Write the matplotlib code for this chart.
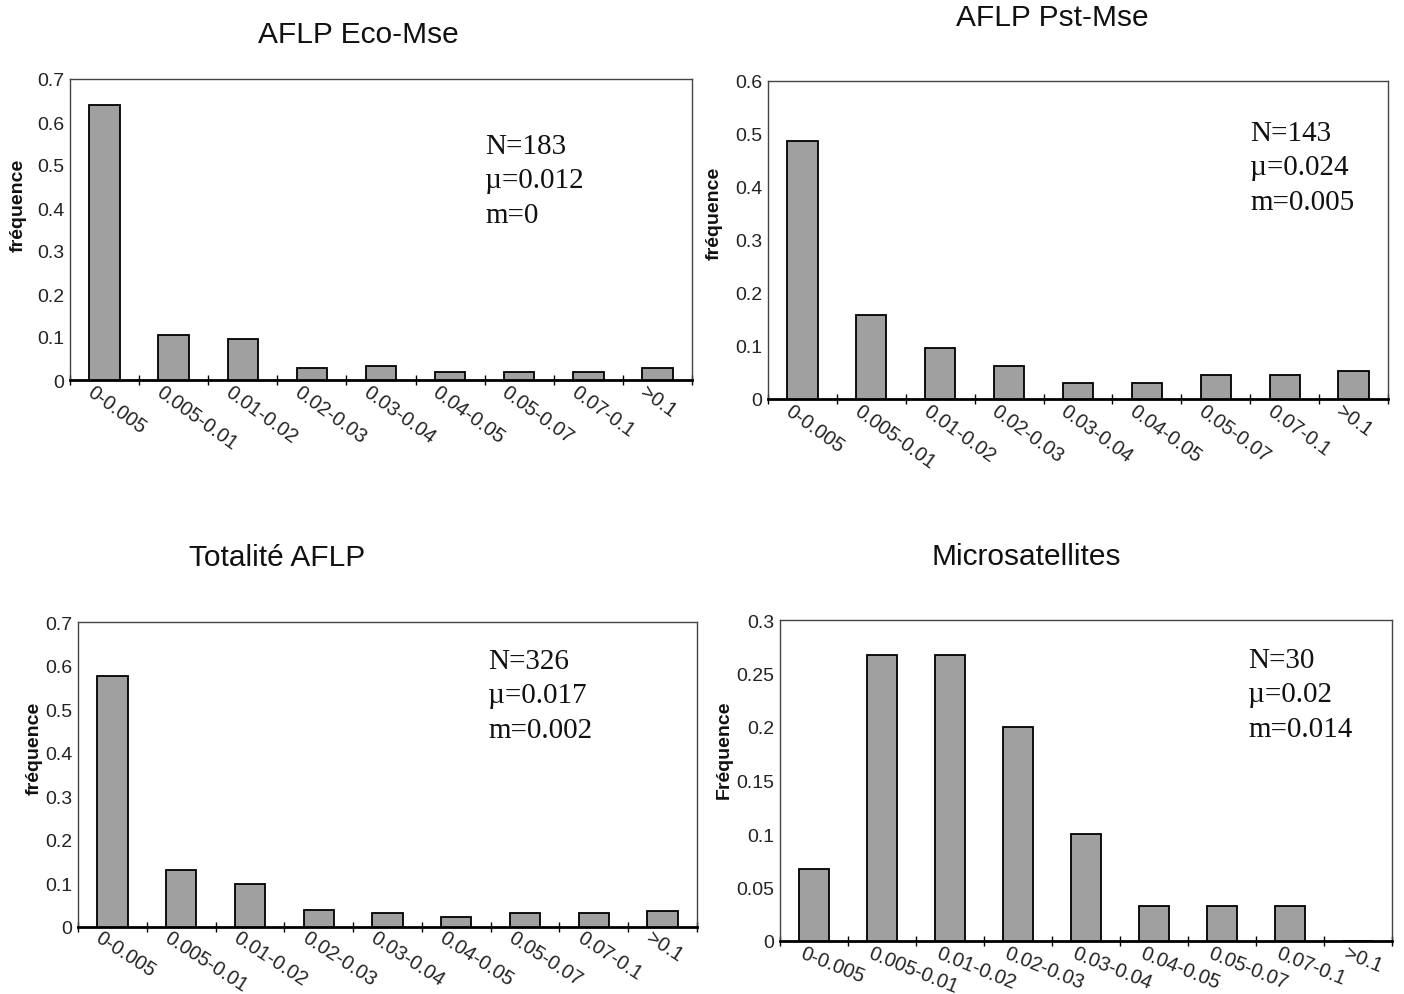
import matplotlib
matplotlib.use('Agg')
import matplotlib.pyplot as plt
from matplotlib.ticker import FuncFormatter, FixedLocator
import matplotlib.transforms as mtransforms
import numpy as np

# ── Data ─────────────────────────────────────────────────────────────────────
classes = ["0-0.005", "0.005-0.01", "0.01-0.02", "0.02-0.03", "0.03-0.04",
           "0.04-0.05", "0.05-0.07", "0.07-0.1", ">0.1"]

eco_mse   = [0.640, 0.104, 0.096, 0.027, 0.032, 0.018, 0.018, 0.018, 0.028]
pst_mse   = [0.487, 0.159, 0.096, 0.062, 0.031, 0.031, 0.046, 0.046, 0.053]
totalite  = [0.575, 0.131, 0.098, 0.040, 0.031, 0.023, 0.032, 0.032, 0.036]
microsat  = [0.067, 0.267, 0.267, 0.200, 0.100, 0.033, 0.033, 0.033, 0.0]

titles  = ["AFLP Eco-Mse", "AFLP Pst-Mse", "Totalité AFLP", "Microsatellites"]
stats   = ["N=183\nµ=0.012\nm=0", "N=143\nµ=0.024\nm=0.005",
           "N=326\nµ=0.017\nm=0.002", "N=30\nµ=0.02\nm=0.014"]
ylabels = ["fréquence", "fréquence", "fréquence", "Fréquence"]
yticks  = [[0, 0.1, 0.2, 0.3, 0.4, 0.5, 0.6, 0.7],
           [0, 0.1, 0.2, 0.3, 0.4, 0.5, 0.6],
           [0, 0.1, 0.2, 0.3, 0.4, 0.5, 0.6, 0.7],
           [0, 0.05, 0.1, 0.15, 0.2, 0.25, 0.3]]
series  = [eco_mse, pst_mse, totalite, microsat]

# ── Layout (pixels: left, top, right, bottom of plot area) ───────────────────
W, H = 1404, 995
boxes = [(70, 80, 692, 381), (768, 82, 1388, 400),
         (78, 623, 697, 928), (780, 621, 1392, 942)]
title_pos = [(358, 35), (1052, 18), (277, 558), (1026, 557)]
stat_pos  = [(485, 134), (1250, 121), (488, 649), (1248, 648)]
ylab_pos  = [(18, 205), (714, 213), (34, 748), (724, 750)]
xlab_rot  = [-36, -36, -33, -22]
xlab_off  = [2, 2, 0, 2]   # px below the axis line

plt.rcParams['font.family'] = ['Liberation Sans', 'DejaVu Sans']
fig = plt.figure(figsize=(W / 100, H / 100), dpi=100, facecolor='white')

x = np.arange(len(classes))
for i in range(4):
    l, t, r, b = boxes[i]
    ax = fig.add_axes([l / W, 1 - b / H, (r - l) / W, (b - t) / H])
    ax.bar(x, series[i], width=0.44, color='#a0a0a0', edgecolor='black',
           linewidth=1.3, zorder=3)
    ax.set_xlim(-0.5, len(classes) - 0.5)
    ax.set_ylim(0, yticks[i][-1])

    for side in ['top', 'right', 'left']:
        ax.spines[side].set_linewidth(1.0)
        ax.spines[side].set_color('#444444')
    ax.spines['bottom'].set_linewidth(2.0)
    ax.spines['bottom'].set_color('black')

    ax.set_yticks(yticks[i])
    ax.yaxis.set_major_formatter(FuncFormatter(lambda v, _: f"{v:g}"))
    ax.tick_params(axis='y', length=0, pad=4, labelsize=14, colors='#222222')

    ax.xaxis.set_major_locator(FixedLocator(np.arange(-0.5, len(classes), 1)))
    ax.set_xticklabels([])
    ax.tick_params(axis='x', direction='inout', length=7, width=1.0)
    trans = ax.get_xaxis_transform() + mtransforms.ScaledTranslation(
        0, -xlab_off[i] / 100, fig.dpi_scale_trans)
    for k, lab in enumerate(classes):
        ax.text(k - 0.14, 0, lab, transform=trans,
                rotation=xlab_rot[i], rotation_mode='anchor',
                ha='left', va='top', fontsize=14.3, color='#222222')

    tx, ty = title_pos[i]
    fig.text(tx / W, 1 - ty / H, titles[i], ha='center', va='center',
             fontsize=21.5, color='#111111')
    sx, sy = stat_pos[i]
    fig.text(sx / W, 1 - sy / H, stats[i], ha='left', va='top',
             fontsize=21, family='Liberation Serif', linespacing=1.42,
             color='#111111')
    yx, yy = ylab_pos[i]
    fig.text(yx / W, 1 - yy / H, ylabels[i], rotation=90,
             ha='center', va='center', fontsize=14, fontweight='bold',
             color='#111111')

fig.savefig('out.png', dpi=100, facecolor='white')
